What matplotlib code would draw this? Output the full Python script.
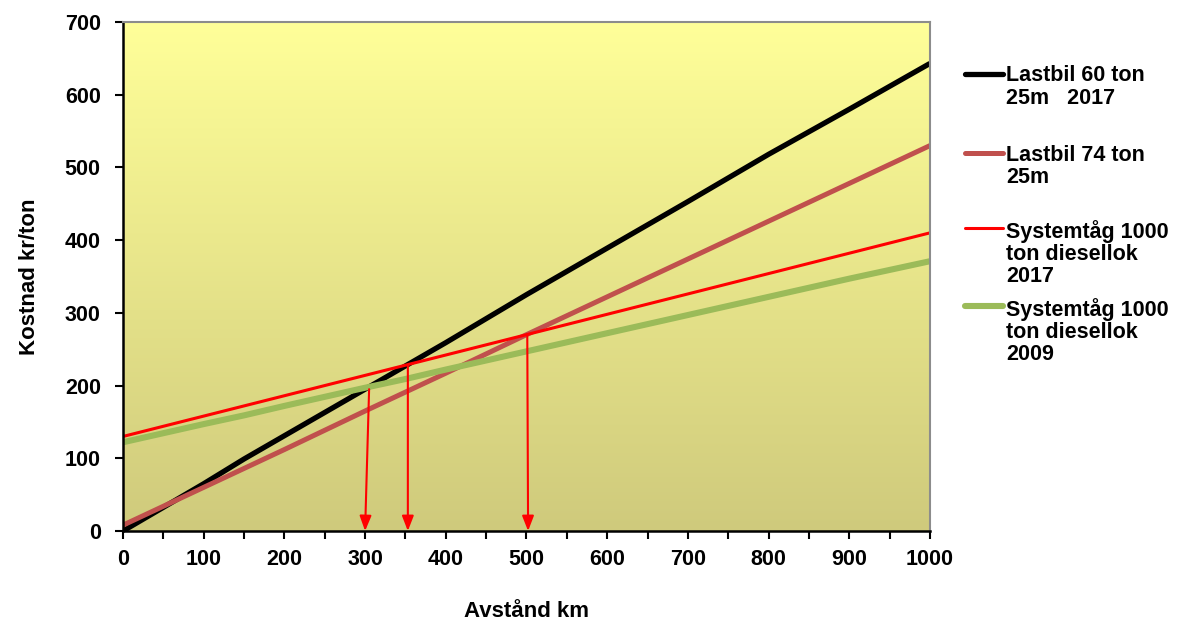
import numpy as np
import matplotlib
matplotlib.use("Agg")
import matplotlib.pyplot as plt
from matplotlib.lines import Line2D

plt.rcParams['font.family'] = ['Liberation Sans', 'DejaVu Sans']

# distance km
km = [0, 100, 150, 200, 300, 350, 400, 500, 600, 700, 800, 900, 1000]
# cost kr/ton
lastbil60 = [0, 65, 99, 131, 195, 227, 259, 325, 389, 453, 518, 580, 643]
lastbil74 = [8, 60, 86, 112, 165, 191, 217, 270, 322, 374, 426, 478, 530]
tag2017 = [130, 158, 172, 186, 214, 228, 242, 270, 298, 326, 354, 382, 410]
tag2009 = [122, 147, 159, 172, 197, 209, 222, 247, 272, 297, 322, 347, 371]

labels = ['Lastbil 60 ton\n25m   2017', 'Lastbil 74 ton\n25m',
          'Systemtåg 1000\nton diesellok\n2017', 'Systemtåg 1000\nton diesellok\n2009']
colors = ['#000000', '#C0504D', '#FF0000', '#9BBB59']
widths = [3.8, 3.6, 2.2, 4.4]

# break-even arrows: (start x, start y, end x)
arrow_x0 = [305, 353, 501]
arrow_y0 = [195, 227, 270]
arrow_x1 = [300, 353, 502]

fig = plt.figure(figsize=(11.77, 6.23), dpi=100)
ax = fig.add_axes([0.1045, 0.1477, 0.6856, 0.8170])

# gradient background
grad = np.linspace(0, 1, 256).reshape(-1, 1)
top = np.array([255, 255, 153]) / 255
bot = np.array([207, 202, 124]) / 255
img = top[None, None, :] * (1 - grad[:, :, None]) + bot[None, None, :] * grad[:, :, None]
ax.imshow(img, extent=[0, 1000, 0, 700], aspect='auto', zorder=0, origin='upper')

series = [lastbil60, lastbil74, tag2017, tag2009]
order = [3, 1, 0, 2]
for i in order:
    ax.plot(km, series[i], color=colors[i], lw=widths[i], zorder=2 + i * 0.1,
            solid_capstyle='butt')

for x0, y0, x1 in zip(arrow_x0, arrow_y0, arrow_x1):
    ax.annotate('', xy=(x1, 0), xytext=(x0, y0),
                arrowprops=dict(arrowstyle='-|>,head_length=0.9,head_width=0.35',
                                color='#FF0000', lw=1.5, shrinkA=0, shrinkB=0),
                zorder=4)

ax.set_xlim(0, 1000)
ax.set_ylim(0, 700)
ax.set_xticks(range(0, 1001, 100))
ax.set_xticks(range(0, 1001, 50), minor=True)
ax.set_yticks(range(0, 701, 100))
ax.tick_params(axis='both', which='both', direction='out', length=6, width=1.5,
               labelsize=15.5)
ax.tick_params(axis='x', pad=7)
ax.tick_params(axis='y', pad=10)
for lab in ax.get_xticklabels() + ax.get_yticklabels():
    lab.set_fontweight('bold')

ax.spines['left'].set_linewidth(1.8)
ax.spines['bottom'].set_linewidth(1.8)
ax.spines['top'].set_color('#8C8C8C')
ax.spines['right'].set_color('#8C8C8C')
ax.spines['top'].set_linewidth(1.5)
ax.spines['right'].set_linewidth(1.5)

ax.set_xlabel('Avstånd km', fontsize=16, fontweight='bold', labelpad=22)
ax.set_ylabel('Kostnad kr/ton', fontsize=16, fontweight='bold', labelpad=18)

# legend, drawn by hand to keep the Excel layout
leg_y = [0.882, 0.755, 0.634, 0.509]
for lab, c, w, y in zip(labels, colors, widths, leg_y):
    fig.add_artist(Line2D([0.820, 0.852], [y, y], color=c, lw=w,
                          transform=fig.transFigure, solid_capstyle='round'))
    fig.text(0.855, y + 0.013, lab, fontsize=15.5, fontweight='bold',
             va='top', ha='left', linespacing=1.08)

fig.savefig('out.png', dpi=100)
